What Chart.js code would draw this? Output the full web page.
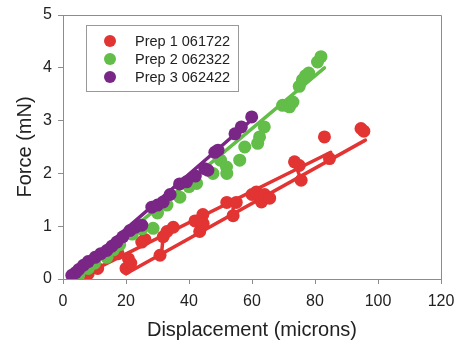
<!DOCTYPE html>
<html>
<head>
<meta charset="utf-8">
<script src="https://cdn.jsdelivr.net/npm/chart.js@4"></script>
<style>
  html, body { margin: 0; padding: 0; background: #fff; }
  #wrap { width: 455px; height: 345px; }
</style>
</head>
<body>
<div id="wrap"><canvas id="forceChart"></canvas></div>
<script>
// series labels and colours
const labels = ["Prep 1 061722", "Prep 2 062322", "Prep 3 062422"];
const colors = ["rgb(226,52,50)", "rgb(98,190,72)", "rgb(122,38,134)"];

// measured points (displacement in microns, force in mN)
const prep1X = [8, 11, 17.5, 20, 20.8, 21.5, 25, 26, 30.8, 31.8, 33, 35, 41.9, 43.4, 44.4, 44.5, 52, 54, 55, 60, 61.4, 62.4, 63, 64, 65.6, 73.5, 75, 75.6, 83, 84.6, 94.6, 95.5];
const prep1Y = [0.1, 0.2, 0.48, 0.2, 0.38, 0.3, 0.7, 0.75, 0.45, 0.8, 0.9, 0.98, 1.1, 0.9, 1.22, 1.05, 1.45, 1.2, 1.45, 1.6, 1.65, 1.55, 1.46, 1.6, 1.53, 2.22, 2.15, 1.87, 2.69, 2.28, 2.85, 2.8];

const prep2X = [5, 8, 10, 13.9, 16, 18, 22, 25, 28.6, 30, 33, 37.1, 40, 42.4, 47.6, 50, 51.9, 52, 56.1, 57.7, 61.8, 62.4, 63.9, 69.7, 71.9, 73, 75, 76, 77, 78, 80.8, 81.9];
const prep2Y = [0.08, 0.2, 0.3, 0.41, 0.55, 0.65, 0.85, 0.95, 0.96, 1.25, 1.4, 1.55, 1.75, 1.81, 2.0, 2.25, 2.12, 2.0, 2.25, 2.5, 2.57, 2.69, 2.88, 3.29, 3.26, 3.35, 3.65, 3.77, 3.85, 3.9, 4.11, 4.21];

const prep3X = [2.8, 4, 5, 6.5, 8, 10.2, 12, 13.9, 15.5, 17.1, 19, 21.3, 23, 25, 28.2, 30, 31.8, 34, 37, 39.2, 42, 45, 46, 48.2, 49.2, 54.6, 56.6, 59.9];
const prep3Y = [0.07, 0.12, 0.18, 0.26, 0.33, 0.41, 0.48, 0.54, 0.62, 0.7, 0.8, 0.92, 0.98, 1.02, 1.36, 1.4, 1.46, 1.6, 1.8, 1.84, 1.95, 2.09, 2.06, 2.4, 2.44, 2.75, 2.88, 3.07];

// fitted lines, [start, end]
const fit1aX = [9, 85];   const fit1aY = [0.15, 2.4];
const fit1bX = [20, 96];  const fit1bY = [0.1, 2.63];
const fit2X = [4, 83];    const fit2Y = [0.05, 4.0];
const fit3X = [3, 60];    const fit3Y = [0.07, 3.02];

// short red links between the two prep 1 lines (null = break)
const linkX = [20, 20.8, null, 31.8, 31.3, null, 44.4, 43.4, null, 54, 54, null, 73.5, 75.6, null, 84.6, 84.6];
const linkY = [0.1, 0.45, null, 0.8, 0.5, null, 1.24, 0.86, null, 1.43, 1.17, null, 2.22, 1.87, null, 2.38, 2.22];

function pts(xs, ys) {
  return xs.map((x, i) => (x === null ? { x: NaN, y: NaN } : { x: x, y: ys[i] }));
}

function lineSet(xs, ys, color, order) {
  return {
    type: "line",
    data: pts(xs, ys),
    borderColor: color,
    borderWidth: 3.5,
    borderCapStyle: "round",
    pointRadius: 0,
    fill: false,
    spanGaps: false,
    order: order,
  };
}

function dotSet(label, xs, ys, color, order) {
  return {
    type: "scatter",
    label: label,
    data: pts(xs, ys),
    backgroundColor: color,
    borderColor: color,
    borderWidth: 0,
    pointRadius: 6.5,
    order: order,
  };
}

const frameColor = "#8c8c8c";
const textColor = "#222";

// box around the plot + legend box
const framePlugin = {
  id: "frame",
  afterDatasetsDraw(chart) {
    const { ctx, chartArea: a } = chart;
    ctx.save();
    ctx.strokeStyle = frameColor;
    ctx.lineWidth = 1;
    ctx.beginPath();
    ctx.moveTo(a.left, a.top + 0.5);
    ctx.lineTo(a.right + 0.5, a.top + 0.5);
    ctx.lineTo(a.right + 0.5, a.bottom);
    ctx.stroke();

    // legend
    const bx = 86.5, by = 25.5, bw = 152, bh = 66;
    ctx.fillStyle = "#fff";
    ctx.fillRect(bx, by, bw, bh);
    ctx.strokeStyle = "#999";
    ctx.strokeRect(bx, by, bw, bh);
    ctx.font = "14.5px 'Liberation Sans', Arial, sans-serif";
    ctx.textBaseline = "middle";
    labels.forEach((lab, i) => {
      const cy = 41 + i * 18;
      ctx.fillStyle = colors[i];
      ctx.beginPath();
      ctx.arc(110, cy, 6, 0, Math.PI * 2);
      ctx.fill();
      ctx.fillStyle = textColor;
      ctx.fillText(lab, 135, cy + 0.5);
    });
    ctx.restore();
  },
};

const ctx = document.getElementById("forceChart").getContext("2d");
const forceChart = new Chart(ctx, {
  data: {
    datasets: [
      lineSet(fit1aX, fit1aY, colors[0], 5),
      lineSet(fit1bX, fit1bY, colors[0], 5),
      lineSet(linkX, linkY, colors[0], 5),
      dotSet(labels[0], prep1X, prep1Y, colors[0], 4),
      lineSet(fit2X, fit2Y, colors[1], 3),
      dotSet(labels[1], prep2X, prep2Y, colors[1], 2),
      lineSet(fit3X, fit3Y, colors[2], 1),
      dotSet(labels[2], prep3X, prep3Y, colors[2], 0),
    ],
  },
  options: {
    responsive: true,
    maintainAspectRatio: false,
    animation: false,
    layout: { padding: { top: 15, right: 14, left: 0, bottom: 0 } },
    plugins: {
      legend: { display: false },
      tooltip: { enabled: false },
    },
    scales: {
      x: {
        type: "linear",
        min: 0,
        max: 120,
        afterFit(s) {
          s.height = 66;
          s.paddingLeft = 0;
          s.paddingRight = 0;
        },
        ticks: {
          stepSize: 20,
          padding: 8,
          color: textColor,
          font: { family: "'Liberation Sans', Arial, sans-serif", size: 16 },
        },
        grid: { drawOnChartArea: false, drawTicks: true, tickLength: 5, color: frameColor },
        border: { display: true, color: frameColor },
        title: {
          display: true,
          text: "Displacement (microns)",
          color: textColor,
          padding: { top: 3, bottom: 3 },
          font: { family: "'Liberation Sans', Arial, sans-serif", size: 20 },
        },
      },
      y: {
        type: "linear",
        min: 0,
        max: 5,
        afterFit(s) {
          s.width = 63;
          s.paddingTop = 0;
          s.paddingBottom = 0;
        },
        ticks: {
          stepSize: 1,
          padding: 6,
          color: textColor,
          font: { family: "'Liberation Sans', Arial, sans-serif", size: 16 },
        },
        grid: { drawOnChartArea: false, drawTicks: true, tickLength: 5, color: frameColor },
        border: { display: true, color: frameColor },
        title: {
          display: true,
          text: "Force (mN)",
          color: textColor,
          padding: { top: 13, bottom: 13 },
          font: { family: "'Liberation Sans', Arial, sans-serif", size: 20 },
        },
      },
    },
  },
  plugins: [framePlugin],
});
</script>
</body>
</html>
